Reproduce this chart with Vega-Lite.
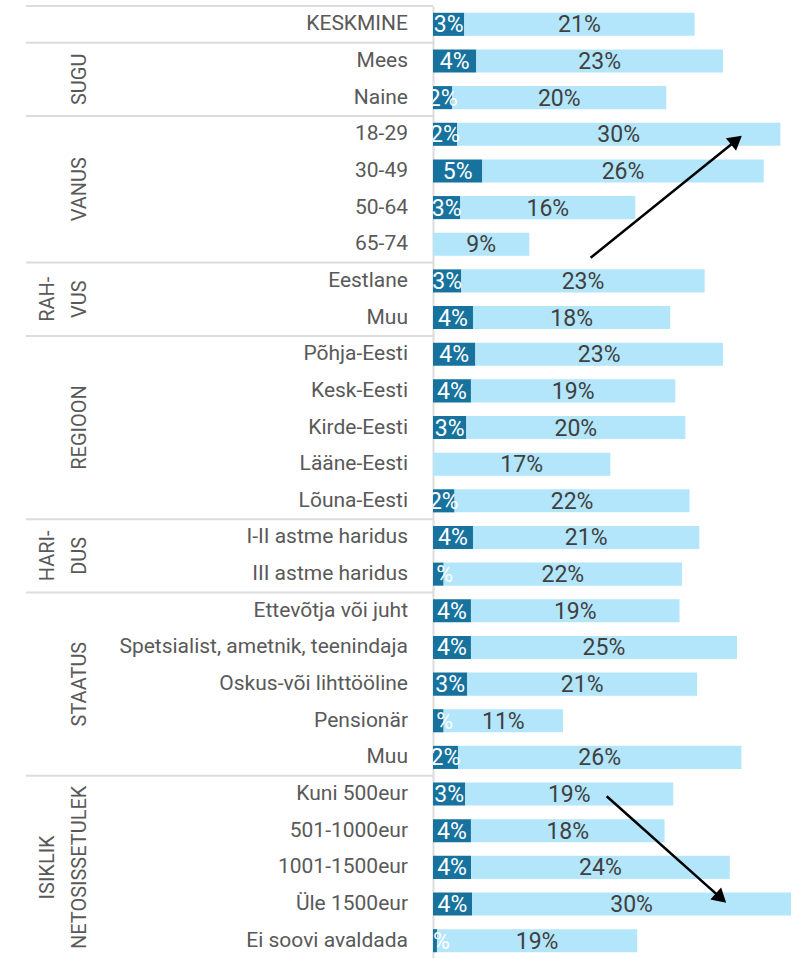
{
  "$schema": "https://vega.github.io/schema/vega-lite/v6.json",
  "bounds": "flush",
  "spacing": 0,
  "padding": {"left": 25, "top": 5, "right": 0, "bottom": 0},
  "config": {"view": {"stroke": null}, "font": "Roboto"},
  "datasets": {
    "rows": [
      {"key": "KESKMINE", "label": "KESKMINE", "dark": 0.0292, "light": 0.2148},
      {"key": "SUGU Mees", "label": "Mees", "dark": 0.0404, "light": 0.2301},
      {"key": "SUGU Naine", "label": "Naine", "dark": 0.0180, "light": 0.1996},
      {"key": "VANUS 18-29", "label": "18-29", "dark": 0.0224, "light": 0.3016},
      {"key": "VANUS 30-49", "label": "30-49", "dark": 0.0460, "light": 0.2625},
      {"key": "VANUS 50-64", "label": "50-64", "dark": 0.0255, "light": 0.1632},
      {"key": "VANUS 65-74", "label": "65-74", "dark": 0, "light": 0.0898},
      {"key": "RAHVUS Eestlane", "label": "Eestlane", "dark": 0.0264, "light": 0.2270},
      {"key": "RAHVUS Muu", "label": "Muu", "dark": 0.0373, "light": 0.1840},
      {"key": "REGIOON Põhja-Eesti", "label": "Põhja-Eesti", "dark": 0.0395, "light": 0.2310},
      {"key": "REGIOON Kesk-Eesti", "label": "Kesk-Eesti", "dark": 0.0354, "light": 0.1906},
      {"key": "REGIOON Kirde-Eesti", "label": "Kirde-Eesti", "dark": 0.0311, "light": 0.2043},
      {"key": "REGIOON Lääne-Eesti", "label": "Lääne-Eesti", "dark": 0, "light": 0.1654},
      {"key": "REGIOON Lõuna-Eesti", "label": "Lõuna-Eesti", "dark": 0.0201, "light": 0.2192},
      {"key": "HARIDUS I-II", "label": "I-II astme haridus", "dark": 0.0373, "light": 0.2111},
      {"key": "HARIDUS III", "label": "III astme haridus", "dark": 0.0099, "light": 0.2224},
      {"key": "STAATUS Ettevõtja", "label": "Ettevõtja või juht", "dark": 0.0354, "light": 0.1946},
      {"key": "STAATUS Spetsialist", "label": "Spetsialist, ametnik, teenindaja", "dark": 0.0354, "light": 0.2481},
      {"key": "STAATUS Oskus", "label": "Oskus-või lihttööline", "dark": 0.0320, "light": 0.2143},
      {"key": "STAATUS Pensionär", "label": "Pensionär", "dark": 0.0099, "light": 0.1114},
      {"key": "STAATUS Muu", "label": "Muu", "dark": 0.0233, "light": 0.2643},
      {"key": "SISSETULEK Kuni 500", "label": "Kuni 500eur", "dark": 0.0301, "light": 0.1940},
      {"key": "SISSETULEK 501-1000", "label": "501-1000eur", "dark": 0.0354, "light": 0.1806},
      {"key": "SISSETULEK 1001-1500", "label": "1001-1500eur", "dark": 0.0355, "light": 0.2413},
      {"key": "SISSETULEK Üle 1500", "label": "Üle 1500eur", "dark": 0.0364, "light": 0.2976},
      {"key": "SISSETULEK Ei soovi", "label": "Ei soovi avaldada", "dark": 0.0037, "light": 0.1868}
    ],
    "groups": [
      {"name": "KESKMINE", "title": "", "start": 0, "end": 1},
      {"name": "SUGU", "title": "SUGU", "start": 1, "end": 3},
      {"name": "VANUS", "title": "VANUS", "start": 3, "end": 7},
      {"name": "RAHVUS", "title": "RAH-\nVUS", "start": 7, "end": 9},
      {"name": "REGIOON", "title": "REGIOON", "start": 9, "end": 14},
      {"name": "HARIDUS", "title": "HARI-\nDUS", "start": 14, "end": 16},
      {"name": "STAATUS", "title": "STAATUS", "start": 16, "end": 21},
      {"name": "SISSETULEK", "title": "ISIKLIK\nNETOSISSETULEK", "start": 21, "end": 26}
    ],
    "arrows": [
      {"a": 1, "x": 0.147, "y": 6.87, "hx": 0.283, "hy": 3.66},
      {"a": 2, "x": 0.162, "y": 21.56, "hx": 0.2686, "hy": 24.34}
    ]
  },
  "hconcat": [
    {
      "width": 407,
      "height": 953,
      "layer": [
        {
          "data": {"name": "groups"},
          "mark": {"type": "rule", "stroke": "#dcdcdc", "strokeWidth": 2},
          "encoding": {
            "y": {"field": "start", "type": "quantitative", "scale": {"domain": [0, 26], "reverse": true, "nice": false, "zero": false}, "axis": null},
            "x": {"datum": 0, "type": "quantitative", "scale": {"domain": [0, 1]}, "axis": null},
            "x2": {"datum": 1}
          }
        },
        {
          "data": {"name": "groups"},
          "transform": [
            {"filter": "indexof(datum.title, '\\n') < 0"},
            {"calculate": "(datum.start + datum.end) / 2", "as": "mid"}
          ],
          "mark": {"type": "text", "angle": 270, "align": "center", "baseline": "alphabetic", "fontSize": 20, "color": "#595959"},
          "encoding": {
            "y": {"field": "mid", "type": "quantitative", "scale": {"domain": [0, 26], "reverse": true, "nice": false, "zero": false}, "axis": null},
            "x": {"datum": 0.1474, "type": "quantitative", "scale": {"domain": [0, 1]}, "axis": null},
            "text": {"field": "title"}
          }
        },
        {
          "data": {"name": "groups"},
          "transform": [
            {"filter": "indexof(datum.title, '\\n') >= 0"},
            {"calculate": "(datum.start + datum.end) / 2", "as": "mid"}
          ],
          "mark": {"type": "text", "angle": 270, "align": "center", "baseline": "alphabetic", "lineBreak": "\n", "lineHeight": 32, "dy": -32, "fontSize": 20, "color": "#595959"},
          "encoding": {
            "y": {"field": "mid", "type": "quantitative", "scale": {"domain": [0, 26], "reverse": true, "nice": false, "zero": false}, "axis": null},
            "x": {"datum": 0.1474, "type": "quantitative", "scale": {"domain": [0, 1]}, "axis": null},
            "text": {"field": "title"}
          }
        },
        {
          "data": {"name": "rows"},
          "mark": {"type": "text", "align": "right", "baseline": "middle", "dx": -25, "fontSize": 21, "color": "#595959"},
          "encoding": {
            "y": {"field": "key", "type": "nominal", "sort": null, "scale": {"paddingInner": 0.37, "paddingOuter": 0.185}, "axis": null},
            "x": {"datum": 1, "type": "quantitative", "scale": {"domain": [0, 1]}, "axis": null},
            "text": {"field": "label"}
          }
        }
      ],
      "resolve": {"scale": {"y": "independent"}}
    },
    {
      "width": 366,
      "height": 953,
      "layer": [
        {
          "data": {"name": "rows"},
          "transform": [
            {"fold": ["dark", "light"], "as": ["segment", "value"]},
            {"stack": "value", "groupby": ["key"], "sort": [{"field": "segment", "order": "ascending"}], "as": ["v0", "v1"]},
            {"calculate": "(datum.v0 + datum.v1) / 2", "as": "mid"}
          ],
          "layer": [
            {
              "mark": {"type": "bar"},
              "encoding": {
                "y": {"field": "key", "type": "nominal", "sort": null, "scale": {"paddingInner": 0.37, "paddingOuter": 0.185},
                      "axis": {"labels": false, "ticks": false, "title": null, "domain": true, "domainColor": "#dcdcdc", "domainWidth": 2, "grid": false}},
                "x": {"field": "v0", "type": "quantitative", "scale": {"domain": [0, 0.3414], "nice": false}, "axis": null},
                "x2": {"field": "v1"},
                "color": {"field": "segment", "type": "nominal", "scale": {"domain": ["dark", "light"], "range": ["#17739e", "#b3e6fb"]}, "legend": null}
              }
            },
            {
              "mark": {"type": "text", "align": "center", "baseline": "middle", "fontSize": 23, "clip": true, "dy": 1},
              "encoding": {
                "y": {"field": "key", "type": "nominal", "sort": null},
                "x": {"field": "mid", "type": "quantitative"},
                "text": {"condition": {"test": "datum.value > 0", "field": "value", "type": "quantitative", "format": ".0%"}, "value": ""},
                "color": {"condition": {"test": "datum.segment === 'dark'", "value": "#ffffff"}, "value": "#404040"}
              }
            }
          ]
        },
        {
          "layer": [
            {
              "mark": {"type": "rule", "stroke": "#000000", "strokeWidth": 2, "strokeDash": [6, 4]},
              "encoding": {
                "x": {"datum": 0.241, "type": "quantitative", "scale": {"domain": [0, 0.3414], "nice": false}, "axis": null},
                "y": {"datum": 0.19, "type": "quantitative", "scale": {"domain": [0, 26], "reverse": true, "nice": false, "zero": false}, "axis": null},
                "y2": {"datum": 26}
              }
            },
            {
              "data": {"name": "arrows"},
              "mark": {"type": "rule", "stroke": "#000000", "strokeWidth": 2.5},
              "encoding": {
                "x": {"field": "x", "type": "quantitative"},
                "y": {"field": "y", "type": "quantitative"},
                "x2": {"field": "hx"},
                "y2": {"field": "hy"}
              }
            },
            {
              "data": {"name": "arrows"},
              "transform": [{"filter": "datum.a === 1"}],
              "mark": {"type": "point", "shape": "triangle-up", "filled": true, "color": "#000000", "opacity": 1, "size": 260, "angle": 51},
              "encoding": {
                "x": {"field": "hx", "type": "quantitative"},
                "y": {"field": "hy", "type": "quantitative"}
              }
            },
            {
              "data": {"name": "arrows"},
              "transform": [{"filter": "datum.a === 2"}],
              "mark": {"type": "point", "shape": "triangle-up", "filled": true, "color": "#000000", "opacity": 1, "size": 260, "angle": 132},
              "encoding": {
                "x": {"field": "hx", "type": "quantitative"},
                "y": {"field": "hy", "type": "quantitative"}
              }
            }
          ]
        }
      ],
      "resolve": {"scale": {"y": "independent"}}
    }
  ]
}
